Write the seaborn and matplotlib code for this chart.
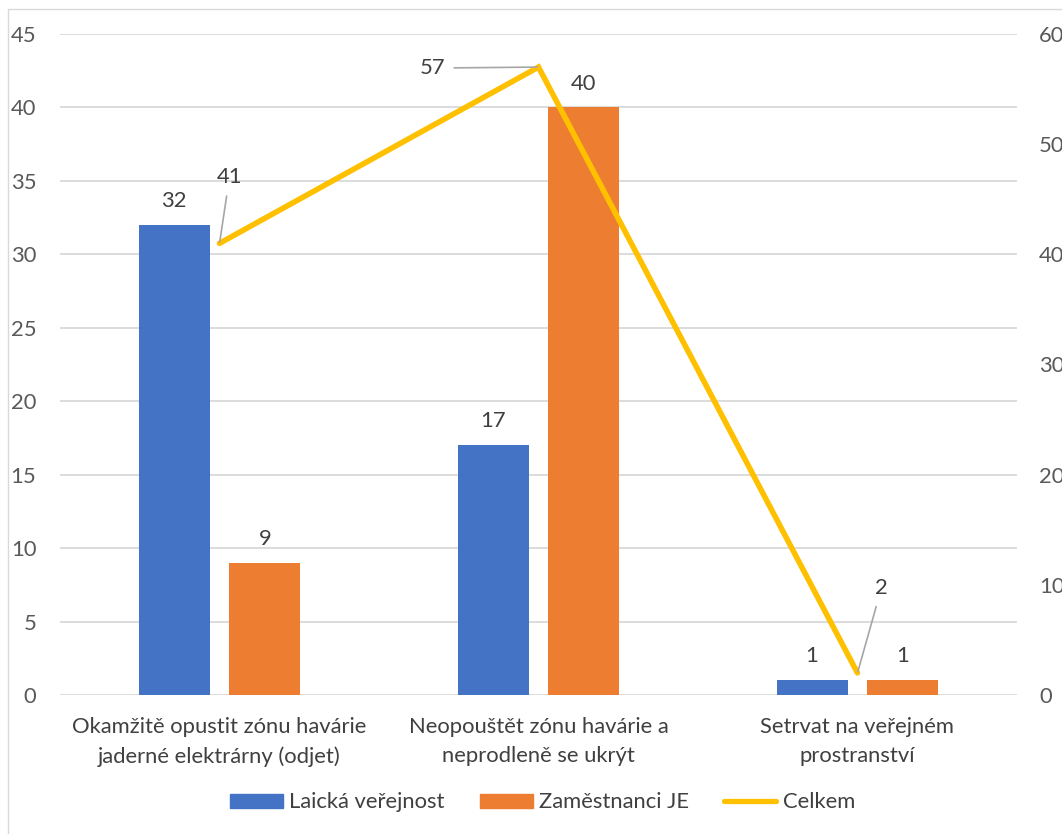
import matplotlib
matplotlib.use("Agg")
import matplotlib.pyplot as plt
from matplotlib.patches import Rectangle
from matplotlib.lines import Line2D
import pandas as pd
import seaborn as sns

categories = [
    "Okamžitě opustit zónu havárie\njaderné elektrárny (odjet)",
    "Neopouštět zónu havárie a\nneprodleně se ukrýt",
    "Setrvat na veřejném\nprostranství",
]
laicka_verejnost = [32, 17, 1]
zamestnanci_je = [9, 40, 1]
celkem = [41, 57, 2]
series_names = ["Laická veřejnost", "Zaměstnanci JE", "Celkem"]
left_ticks = [0, 5, 10, 15, 20, 25, 30, 35, 40, 45]
right_ticks = [0, 10, 20, 30, 40, 50, 60]

colors = {"Laická veřejnost": "#4472C4", "Zaměstnanci JE": "#ED7D31"}
line_color = "#FFC000"
text_color = "#404040"
tick_color = "#595959"
grid_color = "#D9D9D9"
fs = 15.8

sns.set_theme(style="white")
plt.rcParams["font.family"] = ["Lato", "DejaVu Sans"]

bars = pd.DataFrame({
    "kategorie": categories * 2,
    "hodnota": laicka_verejnost + zamestnanci_je,
    "skupina": [series_names[0]] * 3 + [series_names[1]] * 3,
})

fig = plt.figure(figsize=(10.62, 8.34), dpi=100)
ax = fig.add_axes([0.0565, 0.1667, 0.9011, 0.7925])

sns.barplot(data=bars, x="kategorie", y="hodnota", hue="skupina",
            palette=colors, width=0.570, gap=0.219, saturation=1,
            linewidth=0, ax=ax, legend=False, errorbar=None)

for cont in ax.containers:
    ax.bar_label(cont, fmt="%d", padding=10, fontsize=fs, color=text_color)

ax.set_xlim(-0.5, 2.5)
ax.set_ylim(0, 45)
ax.set_yticks(left_ticks)
ax.grid(axis="y", color=grid_color, linewidth=1.3)
ax.grid(axis="x", visible=False)
ax.set_axisbelow(True)
for s in ax.spines.values():
    s.set_visible(False)
ax.set_xlabel("")
ax.set_ylabel("")
ax.tick_params(axis="y", length=0, pad=17, labelsize=fs, labelcolor=tick_color)
ax.tick_params(axis="x", length=0, pad=16, labelsize=fs, labelcolor=text_color)
ax.set_xticks(range(len(categories)))
ax.set_xticklabels(categories, linespacing=1.55)

# Secondary axis with the total line
ax2 = ax.twinx()
sns.lineplot(x=list(range(len(celkem))), y=celkem, ax=ax2, color=line_color,
             linewidth=4.0, solid_capstyle="round", solid_joinstyle="miter")
ax2.set_ylim(0, 60)
ax2.set_yticks(right_ticks)
ax2.set_xlim(-0.5, 2.5)
for s in ax2.spines.values():
    s.set_visible(False)
ax2.tick_params(axis="y", length=0, pad=16, labelsize=fs, labelcolor=tick_color)
ax2.grid(False)
ax2.set_ylabel("")

# Data labels for the total, with leader lines
offsets = [(10, 66), (-106, -1), (24, 85)]
for i, (v, off) in enumerate(zip(celkem, offsets)):
    ax2.annotate(str(v), xy=(i, v), xytext=off, textcoords="offset pixels",
                 ha="center", va="center", fontsize=fs, color=text_color,
                 arrowprops=dict(arrowstyle="-", color="#A6A6A6", lw=1.2,
                                 shrinkA=4, shrinkB=1))

handles = [
    Rectangle((0, 0), 1, 1, color=colors[series_names[0]]),
    Rectangle((0, 0), 1, 1, color=colors[series_names[1]]),
    Line2D([0], [0], color=line_color, linewidth=3.8, solid_capstyle="round"),
]
fig.legend(handles, series_names, loc="center", bbox_to_anchor=(0.511, 0.038),
           ncol=3, frameon=False, fontsize=fs, labelcolor=text_color,
           handlelength=2.4, handleheight=0.6, handletextpad=0.28,
           columnspacing=1.6)

# Chart area outline
fig.patches.append(Rectangle((8 / 1062, -0.1), 2, 1 - 9 / 834 + 0.1,
                             transform=fig.transFigure, fill=False,
                             edgecolor=grid_color, linewidth=1.0))

fig.savefig("out.png", dpi=100, facecolor="white")
